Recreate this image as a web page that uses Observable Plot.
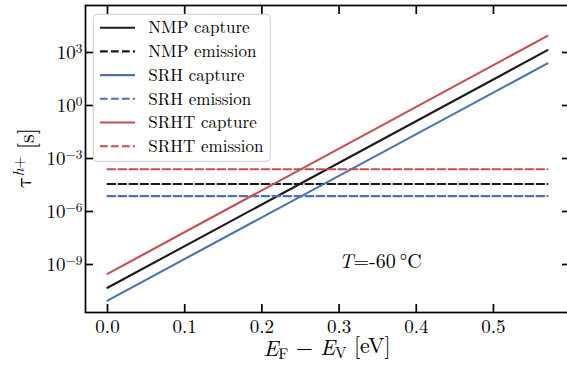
<!DOCTYPE html>
<html>
<head>
<meta charset="utf-8">
<script src="https://cdn.jsdelivr.net/npm/d3@7"></script>
<script src="https://cdn.jsdelivr.net/npm/@observablehq/plot@0.6"></script>
<style>
  html, body { margin: 0; padding: 0; background: white; overflow: hidden; }
  #chart { width: 567px; height: 367px; }
</style>
</head>
<body>
<div id="chart"></div>
<script>
// Hole time constants vs. Fermi level position at T = -60 °C
const energyEV = [0, 0.57];                 // E_F - E_V [eV], line endpoints
const captureNMP = [4.8e-11, 1.35e3];       // tau [s]
const captureSRH = [9.1e-12, 2.4e2];
const captureSRHT = [2.95e-10, 8.7e3];
const emissionNMP = [3.6e-5, 3.6e-5];
const emissionSRH = [7.4e-6, 7.4e-6];
const emissionSRHT = [2.45e-4, 2.45e-4];

const seriesNames = ["NMP capture", "NMP emission", "SRH capture", "SRH emission", "SRHT capture", "SRHT emission"];
const seriesValues = [captureNMP, emissionNMP, captureSRH, emissionSRH, captureSRHT, emissionSRHT];
const seriesColors = ["#1a1a1a", "#1a1a1a", "#4C72B0", "#4C72B0", "#C44E52", "#C44E52"];

const xTicks = [0, 0.1, 0.2, 0.3, 0.4, 0.5];
const yTicks = [1e-9, 1e-6, 1e-3, 1, 1e3];
const annotation = [{x: 0.3, y: 1.5e-9, text: "T=-60 °C"}];

const serifFont = "'Latin Modern Roman', 'Latin Modern Math', 'Liberation Serif', serif";
const mathFont = "'Latin Modern Math', 'Latin Modern Roman', 'Liberation Serif', serif";

const rows = seriesNames.flatMap((name, i) =>
  energyEV.map((e, j) => ({series: name, x: e, tau: seriesValues[i][j]})));

const dash = "7.7,3.3";
const isEmission = (name) => name.endsWith("emission");

const lineMarks = seriesNames.map((name, i) =>
  Plot.line(rows.filter(r => r.series === name), {
    x: "x", y: "tau",
    stroke: seriesColors[i], strokeWidth: 2.1,
    strokeDasharray: isEmission(name) ? dash : null
  }));

const expFormat = (d) => {
  const e = Math.round(Math.log10(d));
  return "10^" + (e < 0 ? "\u2212" + (-e) : String(e));
};

const plot = Plot.plot({
  width: 567, height: 367,
  marginLeft: 85, marginRight: -2, marginTop: 5, marginBottom: 55,
  style: {fontSize: "19px", color: "black", background: "white"},
  x: {domain: [-0.0285, 0.5985]},
  y: {type: "log", domain: [Math.pow(10, -11.717), Math.pow(10, 5.66)]},
  marks: [
    ...lineMarks,
    Plot.text(annotation, {x: "x", y: "y", text: "text", textAnchor: "start", lineAnchor: "middle", fontSize: 20, fill: "black"}),
    Plot.axisX({ticks: xTicks, tickSize: -8, tickPadding: 15, strokeWidth: 1.7, tickFormat: d3.format(".1f"), label: null}),
    Plot.axisX({anchor: "top", ticks: xTicks, tickSize: -8, strokeWidth: 1.7, tickFormat: () => "", label: null}),
    Plot.axisY({ticks: yTicks, tickSize: -8, tickPadding: 11, strokeWidth: 1.7, tickFormat: expFormat, label: null}),
    Plot.axisY({anchor: "right", ticks: yTicks, tickSize: -8, strokeWidth: 1.7, tickFormat: () => "", label: null}),
    Plot.frame({stroke: "black", strokeWidth: 1.7})
  ]
});
plot.setAttribute("font-family", serifFont);
document.getElementById("chart").appendChild(plot);

const svg = d3.select(plot);

// powers of ten with raised exponents
svg.selectAll('g[aria-label="y-axis tick label"] text').each(function () {
  const t = d3.select(this);
  const label = t.text();
  if (!label.includes("^")) return;
  const [base, exp] = label.split("^");
  t.text(null);
  t.append("tspan").text(base);
  t.append("tspan").attr("dy", "-0.42em").attr("font-size", "70%").text(exp);
});

// temperature annotation with italic T
svg.selectAll('g[aria-label="text"] text').each(function () {
  const t = d3.select(this);
  const s = t.text();
  t.text(null);
  t.append("tspan").attr("font-style", "italic").text(s.slice(0, 1));
  t.append("tspan").text(s.slice(1, 5) + "\u2009°C");
});

// x-axis title: E_F − E_V [eV]
const xt = svg.append("text")
  .attr("x", 327).attr("y", 356)
  .attr("text-anchor", "middle")
  .attr("font-size", 22).attr("fill", "black");
xt.append("tspan").attr("font-style", "italic").text("E");
xt.append("tspan").attr("dy", "0.22em").attr("font-size", "70%").text("F");
xt.append("tspan").attr("dy", "-0.22em").text(" \u2212 ");
xt.append("tspan").attr("font-style", "italic").text("E");
xt.append("tspan").attr("dy", "0.22em").attr("font-size", "70%").text("V");
xt.append("tspan").attr("dy", "-0.22em").text(" [eV]");

// y-axis title: τ^{h+} [s]
const yt = svg.append("text")
  .attr("transform", "translate(31,158) rotate(-90)")
  .attr("text-anchor", "middle")
  .attr("font-size", 22).attr("fill", "black");
yt.append("tspan").attr("font-family", mathFont).text("τ");
yt.append("tspan").attr("dy", "-0.45em").attr("font-size", "70%").attr("font-style", "italic").text("h");
yt.append("tspan").attr("font-size", "70%").text("+");
yt.append("tspan").attr("dy", "0.45em").text(" [s]");

// legend
const legend = svg.append("g").attr("transform", "translate(93.3,14.3)");
legend.append("rect")
  .attr("width", 177).attr("height", 147).attr("rx", 4)
  .attr("fill", "white").attr("fill-opacity", 0.8)
  .attr("stroke", "#cccccc").attr("stroke-width", 1);
seriesNames.forEach((name, i) => {
  const cy = 13.4 + i * 23.7;
  legend.append("line")
    .attr("x1", 6.7).attr("x2", 41.7).attr("y1", cy).attr("y2", cy)
    .attr("stroke", seriesColors[i]).attr("stroke-width", 2.1)
    .attr("stroke-dasharray", isEmission(name) ? dash : null);
  legend.append("text")
    .attr("x", 55).attr("y", cy + 5.8)
    .attr("text-anchor", "start")
    .attr("font-size", 17).attr("fill", "black")
    .text(name);
});
</script>
</body>
</html>
